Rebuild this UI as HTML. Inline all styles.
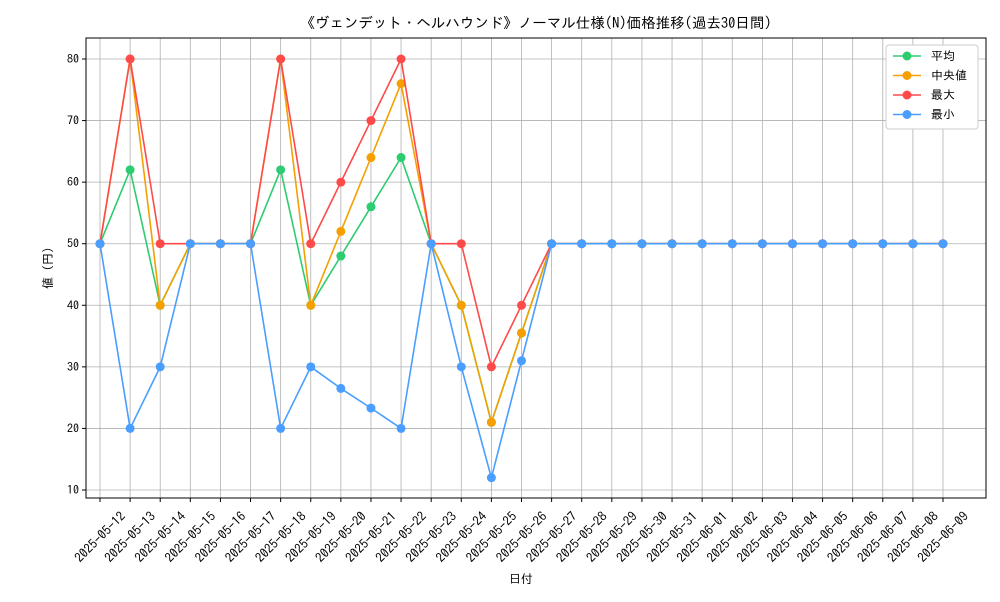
<!DOCTYPE html>
<html><head><meta charset="utf-8"><style>
body{margin:0;background:#fff;font-family:"IPAGothic","Liberation Sans","Noto Sans CJK JP",sans-serif;}
svg text{font-family:"IPAGothic","Liberation Sans","Noto Sans CJK JP",sans-serif;}
</style></head><body>
<svg id="c" width="1000" height="600"></svg>
<script>
const categories=["2025-05-12","2025-05-13","2025-05-14","2025-05-15","2025-05-16","2025-05-17","2025-05-18","2025-05-19","2025-05-20","2025-05-21","2025-05-22","2025-05-23","2025-05-24","2025-05-25","2025-05-26","2025-05-27","2025-05-28","2025-05-29","2025-05-30","2025-05-31","2025-06-01","2025-06-02","2025-06-03","2025-06-04","2025-06-05","2025-06-06","2025-06-07","2025-06-08","2025-06-09"];
const avgValues=[50,62,40,50,50,50,62,40,48,56,64,50,40,21,35.5,50,50,50,50,50,50,50,50,50,50,50,50,50,50];
const medianValues=[50,80,40,50,50,50,80,40,52,64,76,50,40,21,35.5,50,50,50,50,50,50,50,50,50,50,50,50,50,50];
const maxValues=[50,80,50,50,50,50,80,50,60,70,80,50,50,30,40,50,50,50,50,50,50,50,50,50,50,50,50,50,50];
const minValues=[50,20,30,50,50,50,20,30,26.5,23.3,20,50,30,12,31,50,50,50,50,50,50,50,50,50,50,50,50,50,50];
const yTicks=[10,20,30,40,50,60,70,80];
const seriesNames=["平均","中央値","最大","最小"];
const NS="http://www.w3.org/2000/svg";
const svg=document.getElementById('c');
const L=86,R=986,T=38,B=498;
const x=i=>100+i*(943-100)/(categories.length-1);
const y=v=>490-(v-10)*(490-59)/70;
function mk(t,a,p){const e=document.createElementNS(NS,t);for(const k in a)e.setAttribute(k,a[k]);(p||svg).appendChild(e);return e;}
categories.forEach((c,i)=>{
 const g=mk('line',{x1:x(i),x2:x(i),y1:T,y2:B,stroke:'#b0b0b0','stroke-width':0.8});
 
 
 mk('line',{x1:x(i),x2:x(i),y1:B,y2:B+4,stroke:'#000'});
 const t=mk('text',{x:0,y:0,'font-size':13,'text-anchor':'middle','dominant-baseline':'central',transform:`translate(${x(i)},537) rotate(-45)`});
 t.textContent=c;
 
 
});
yTicks.forEach(v=>{
 const g=mk('line',{x1:L,x2:R,y1:y(v),y2:y(v),stroke:'#b0b0b0','stroke-width':0.8});
 
 
 mk('line',{x1:L-4,x2:L,y1:y(v),y2:y(v),stroke:'#000'});
 const t=mk('text',{x:L-7,y:y(v)+4,'font-size':12,'text-anchor':'end'});
 t.textContent=v;
 
 
});
const frame=mk('rect',{x:L,y:T,width:R-L,height:B-T,fill:'none',stroke:'#000','stroke-width':1});


const series=[[avgValues,'#2ecc71'],[medianValues,'#f5a000'],[maxValues,'#ff4a4a'],[minValues,'#4a9eff']];
const keys=['avg','median','max','min'];
series.forEach(([vals,col],s)=>{
 const g=mk('g',{});
 
 
 mk('polyline',{points:vals.map((v,i)=>x(i)+','+y(v)).join(' '),fill:'none',stroke:col,'stroke-width':1.6},g);
 vals.forEach((v,i)=>{const p=mk('circle',{cx:x(i),cy:y(v),r:4.5,fill:col},g);
  
  });
});
const lg=mk('g',{});


mk('rect',{x:886,y:45,width:92,height:84,fill:'#fff',stroke:'#ccc',rx:3},lg);
series.forEach(([v,col],s)=>{
 const yy=56+s*19.5;
 const e=mk('g',{},lg);
 
 
 mk('line',{x1:893,x2:921,y1:yy,y2:yy,stroke:col,'stroke-width':1.6},e);
 mk('circle',{cx:907,cy:yy,r:4.5,fill:col},e);
 const t=mk('text',{x:931,y:yy+4,'font-size':12},e);t.textContent=seriesNames[s];
});
const tt=mk('text',{x:536,y:28,'font-size':14.5,'text-anchor':'middle'});
tt.textContent='《ヴェンデット・ヘルハウンド》ノーマル仕様(N)価格推移(過去30日間)';


const xt=mk('text',{x:521,y:583,'font-size':12,'text-anchor':'middle'});
xt.textContent='日付';


const yt=mk('text',{x:0,y:0,'font-size':12,'text-anchor':'middle',transform:'translate(52,268) rotate(-90)'});
yt.textContent='値 (円)';


</script>
</body></html>
